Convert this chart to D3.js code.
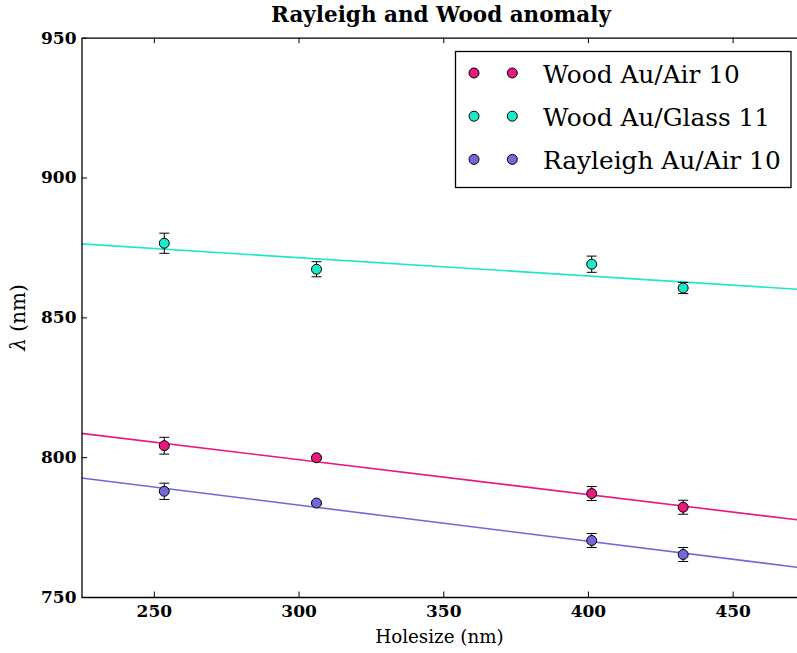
<!DOCTYPE html>
<html>
<head>
<meta charset="utf-8">
<script src="https://cdn.jsdelivr.net/npm/d3@7"></script>
<style>
  html, body { margin: 0; padding: 0; background: #fff; }
  svg { display: block; }
</style>
</head>
<body>
<svg id="chart" width="797" height="653"></svg>
<script>
// Hole sizes (nm) measured for each sample series
const seriesNames = ["Wood Au/Air 10", "Wood Au/Glass 11", "Rayleigh Au/Air 10"];
const seriesColors = ["#e6197e", "#1de8c8", "#7169d9"];

const woodAirX = [253.6, 306.2, 401.3, 432.9];
const woodAirY = [804.1, 799.8, 787.0, 782.1];
const woodAirErr = [3.0, 0.4, 2.5, 2.5];

const woodGlassX = [253.6, 306.2, 401.3, 432.9];
const woodGlassY = [876.5, 867.2, 869.0, 860.5];
const woodGlassErr = [3.6, 2.7, 2.9, 2.0];

const rayleighAirX = [253.6, 306.2, 401.3, 432.9];
const rayleighAirY = [787.8, 783.6, 770.2, 765.2];
const rayleighAirErr = [2.9, 0.5, 2.5, 2.5];

// Linear fits: lambda = intercept + slope * holesize
const fitIntercepts = [836.63, 891.0, 821.57];
const fitSlopes = [-0.125, -0.0655, -0.129];

const xTicks = [250, 300, 350, 400, 450];
const yTicks = [750, 800, 850, 900, 950];
const xDomain = [225, 475];
const yDomain = [750, 950];

const FONT = "'DejaVu Serif', 'Liberation Serif', serif";

const series = [
  { name: seriesNames[0], color: seriesColors[0], x: woodAirX, y: woodAirY, e: woodAirErr, a: fitIntercepts[0], b: fitSlopes[0] },
  { name: seriesNames[1], color: seriesColors[1], x: woodGlassX, y: woodGlassY, e: woodGlassErr, a: fitIntercepts[1], b: fitSlopes[1] },
  { name: seriesNames[2], color: seriesColors[2], x: rayleighAirX, y: rayleighAirY, e: rayleighAirErr, a: fitIntercepts[2], b: fitSlopes[2] }
];

const svg = d3.select("#chart");
const m = { left: 81.5, top: 37.7, right: 805, bottom: 597 };
const titleX = 441;

const x = d3.scaleLinear().domain(xDomain).range([m.left, m.right]);
const y = d3.scaleLinear().domain(yDomain).range([m.bottom, m.top]);

svg.append("defs").append("clipPath").attr("id", "plot-clip")
  .append("rect").attr("x", m.left).attr("y", m.top)
  .attr("width", m.right - m.left).attr("height", m.bottom - m.top);

const plot = svg.append("g").attr("clip-path", "url(#plot-clip)");

// Fit lines
series.forEach(s => {
  plot.append("line")
    .attr("x1", x(xDomain[0])).attr("y1", y(s.a + s.b * xDomain[0]))
    .attr("x2", x(xDomain[1])).attr("y2", y(s.a + s.b * xDomain[1]))
    .attr("stroke", s.color).attr("stroke-width", 1.6);
});

// Error bars and markers
series.forEach(s => {
  const g = plot.append("g");
  s.x.forEach((xv, i) => {
    const cx = x(xv);
    const yTop = y(s.y[i] + s.e[i]);
    const yBot = y(s.y[i] - s.e[i]);
    g.append("line").attr("x1", cx).attr("x2", cx).attr("y1", yTop).attr("y2", yBot)
      .attr("stroke", "#000").attr("stroke-width", 1);
    [yTop, yBot].forEach(yy => {
      g.append("line").attr("x1", cx - 5).attr("x2", cx + 5).attr("y1", yy).attr("y2", yy)
        .attr("stroke", "#000").attr("stroke-width", 1);
    });
  });
  g.selectAll("circle").data(s.x.map((xv, i) => [xv, s.y[i]])).join("circle")
    .attr("cx", d => x(d[0])).attr("cy", d => y(d[1])).attr("r", 5)
    .attr("fill", s.color).attr("stroke", "#000").attr("stroke-width", 1);
});

// Axes with inward ticks
const tickFont = g => g.selectAll("text")
  .attr("font-family", FONT).attr("font-weight", "bold").attr("font-size", 17).attr("fill", "#000");

const bottomAxis = svg.append("g").attr("transform", `translate(0,${m.bottom})`)
  .call(d3.axisBottom(x).tickValues(xTicks).tickFormat(d3.format("d"))
    .tickSizeInner(-5.5).tickSizeOuter(0).tickPadding(8));
bottomAxis.call(tickFont);

const topAxis = svg.append("g").attr("transform", `translate(0,${m.top})`)
  .call(d3.axisTop(x).tickValues(xTicks).tickFormat("")
    .tickSizeInner(-5.5).tickSizeOuter(0));

const leftAxis = svg.append("g").attr("transform", `translate(${m.left},0)`)
  .call(d3.axisLeft(y).tickValues(yTicks).tickFormat(d3.format("d"))
    .tickSizeInner(-5.5).tickSizeOuter(0).tickPadding(5));
leftAxis.call(tickFont);

const rightAxis = svg.append("g").attr("transform", `translate(${m.right},0)`)
  .call(d3.axisRight(y).tickValues(yTicks).tickFormat("")
    .tickSizeInner(-5.5).tickSizeOuter(0));

[bottomAxis, topAxis, leftAxis, rightAxis].forEach(a => {
  a.select(".domain").attr("stroke", "#000").attr("stroke-width", 1.3);
  a.selectAll(".tick line").attr("stroke", "#000").attr("stroke-width", 1);
});

// Title and axis labels
svg.append("text").attr("x", titleX).attr("y", 22)
  .attr("text-anchor", "middle").attr("font-family", FONT)
  .attr("font-weight", "bold").attr("font-size", 21.5)
  .text("Rayleigh and Wood anomaly");

svg.append("text").attr("x", 439.5).attr("y", 643)
  .attr("text-anchor", "middle").attr("font-family", FONT).attr("font-size", 18.3)
  .text("Holesize (nm)");

const yl = svg.append("text")
  .attr("transform", `translate(25,317.5) rotate(-90)`)
  .attr("text-anchor", "middle").attr("font-family", FONT).attr("font-size", 20);
yl.append("tspan").attr("font-style", "italic").text("λ");
yl.append("tspan").text(" (nm)");

// Legend
const lg = svg.append("g");
lg.append("rect").attr("x", 455.5).attr("y", 51.5).attr("width", 335.5).attr("height", 136)
  .attr("fill", "#fff").attr("stroke", "#000").attr("stroke-width", 1.3);
series.forEach((s, i) => {
  const ry = 73 + i * 43.2;
  [474, 512.3].forEach(mx => {
    lg.append("circle").attr("cx", mx).attr("cy", ry).attr("r", 5)
      .attr("fill", s.color).attr("stroke", "#000").attr("stroke-width", 1);
  });
  lg.append("text").attr("x", 543).attr("y", ry + 9.5)
    .attr("font-family", FONT).attr("font-size", 24.8).attr("fill", "#000").text(s.name);
});
</script>
</body>
</html>
